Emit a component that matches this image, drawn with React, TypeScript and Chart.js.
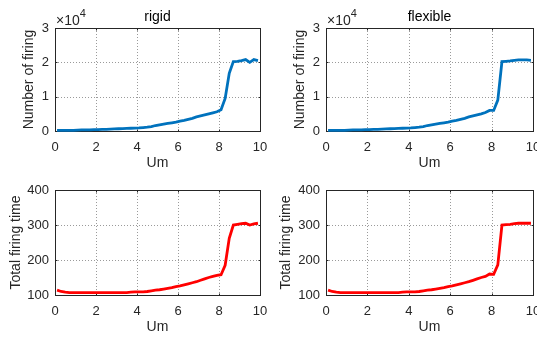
import React, { useEffect, useRef } from "react";
import { Chart, registerables } from "chart.js";

Chart.register(...registerables);

const umValues = [
  0.1, 0.3, 0.5, 0.7, 0.9, 1.1, 1.3, 1.5, 1.7, 1.9,
  2.1, 2.3, 2.5, 2.7, 2.9, 3.1, 3.3, 3.5, 3.7, 3.9,
  4.1, 4.3, 4.5, 4.7, 4.9, 5.1, 5.3, 5.5, 5.7, 5.9,
  6.1, 6.3, 6.5, 6.7, 6.9, 7.1, 7.3, 7.5, 7.7, 7.9,
  8.1, 8.3, 8.5, 8.7, 8.9, 9.1, 9.3, 9.5, 9.7, 9.9,
];

// Number of firing, in units of 10^4
const rigidCount = [
  0.02, 0.02, 0.02, 0.02, 0.02, 0.025, 0.03, 0.03, 0.035, 0.04,
  0.04, 0.045, 0.05, 0.055, 0.06, 0.065, 0.07, 0.075, 0.08, 0.085,
  0.09, 0.1, 0.11, 0.13, 0.16, 0.18, 0.2, 0.22, 0.24, 0.26,
  0.29, 0.31, 0.34, 0.37, 0.41, 0.44, 0.47, 0.5, 0.53, 0.56,
  0.62, 0.95, 1.68, 2.02, 2.03, 2.05, 2.08, 2.0, 2.08, 2.05,
];
const flexibleCount = [
  0.02, 0.02, 0.02, 0.02, 0.02, 0.025, 0.03, 0.03, 0.035, 0.04,
  0.04, 0.045, 0.05, 0.055, 0.06, 0.065, 0.07, 0.075, 0.08, 0.085,
  0.09, 0.1, 0.11, 0.13, 0.16, 0.18, 0.2, 0.22, 0.24, 0.26,
  0.29, 0.31, 0.34, 0.37, 0.41, 0.44, 0.47, 0.5, 0.54, 0.6,
  0.6, 0.9, 2.02, 2.03, 2.04, 2.06, 2.07, 2.07, 2.07, 2.06,
];
const rigidTime = [
  114, 110, 108, 107, 107, 107, 107, 107, 107, 107,
  107, 107, 107, 107, 107, 107, 107, 107, 108, 109,
  109, 109, 110, 112, 114, 115, 117, 119, 121, 124,
  126, 129, 132, 135, 138, 142, 146, 150, 153, 156,
  158, 185, 262, 300, 302, 304, 305, 300, 303, 305,
];
const flexibleTime = [
  114, 110, 108, 107, 107, 107, 107, 107, 107, 107,
  107, 107, 107, 107, 107, 107, 107, 107, 108, 109,
  109, 109, 110, 112, 114, 115, 117, 119, 121, 124,
  126, 129, 132, 135, 138, 142, 146, 150, 153, 160,
  159, 186, 300, 301, 302, 304, 305, 305, 305, 305,
];

const countTicks = [0, 1, 2, 3];
const timeTicks = [100, 200, 300, 400];
const umTicks = [0, 2, 4, 6, 8, 10];

const FONT = "'Liberation Sans', Arial, Helvetica, sans-serif";
const TEXT = "#262626";

type PanelProps = {
  left: number;
  top: number;
  width: number;
  height: number;
  pad: { left: number; right: number; top: number };
  yWidth: number;
  xHeight: number;
  ys: number[];
  color: string;
  yTicks: number[];
  title?: string;
  yTitle: string;
  yTitleX: number;
  xTitleY: number;
  exponent?: boolean;
};

function Panel(p: PanelProps) {
  const ref = useRef<HTMLCanvasElement | null>(null);
  useEffect(() => {
    if (!ref.current) return;
    const yMin = p.yTicks[0];
    const yMax = p.yTicks[p.yTicks.length - 1];
    const decor = {
      id: "decor",
      beforeDatasetsDraw(chart: any) {
        const ctx = chart.ctx;
        const a = chart.chartArea;
        const xs = chart.scales.x;
        const ys = chart.scales.y;
        ctx.save();
        ctx.strokeStyle = "#9a9a9a";
        ctx.lineWidth = 1;
        ctx.setLineDash([1, 2]);
        for (const t of umTicks) {
          const px = Math.round(xs.getPixelForValue(t)) + 0.5;
          ctx.beginPath();
          ctx.moveTo(px, a.top);
          ctx.lineTo(px, a.bottom);
          ctx.stroke();
        }
        for (const t of p.yTicks) {
          const py = Math.round(ys.getPixelForValue(t)) + 0.5;
          ctx.beginPath();
          ctx.moveTo(a.left, py);
          ctx.lineTo(a.right, py);
          ctx.stroke();
        }
        ctx.setLineDash([]);
        ctx.strokeStyle = TEXT;
        ctx.lineWidth = 1;
        const l = Math.round(a.left) + 0.5;
        const r = Math.round(a.right) + 0.5;
        const tp = Math.round(a.top) + 0.5;
        const b = Math.round(a.bottom) + 0.5;
        ctx.strokeRect(l, tp, r - l, b - tp);
        const tl = 2;
        for (const t of umTicks) {
          const px = Math.round(xs.getPixelForValue(t)) + 0.5;
          ctx.beginPath();
          ctx.moveTo(px, b);
          ctx.lineTo(px, b - tl);
          ctx.moveTo(px, tp);
          ctx.lineTo(px, tp + tl);
          ctx.stroke();
        }
        for (const t of p.yTicks) {
          const py = Math.round(ys.getPixelForValue(t)) + 0.5;
          ctx.beginPath();
          ctx.moveTo(l, py);
          ctx.lineTo(l + tl, py);
          ctx.moveTo(r, py);
          ctx.lineTo(r - tl, py);
          ctx.stroke();
        }
        ctx.restore();
      },
      afterDraw(chart: any) {
        const ctx = chart.ctx;
        const a = chart.chartArea;
        const cx = (a.left + a.right) / 2;
        const cy = (a.top + a.bottom) / 2;
        ctx.save();
        ctx.fillStyle = TEXT;
        ctx.textAlign = "center";
        if (p.title) {
          ctx.fillStyle = "#000";
          ctx.font = `14px ${FONT}`;
          ctx.textBaseline = "alphabetic";
          ctx.fillText(p.title, cx, 21);
        }
        ctx.fillStyle = TEXT;
        ctx.font = `14px ${FONT}`;
        ctx.textBaseline = "middle";
        ctx.fillText("Um", cx, p.xTitleY);
        ctx.save();
        ctx.translate(p.yTitleX, cy);
        ctx.rotate(-Math.PI / 2);
        ctx.fillText(p.yTitle, 0, 0);
        ctx.restore();
        if (p.exponent) {
          ctx.textAlign = "left";
          ctx.textBaseline = "alphabetic";
          ctx.font = `14px ${FONT}`;
          const base = "\u00d710";
          ctx.fillText(base, a.left + 1, a.top - 3);
          const w = ctx.measureText(base).width;
          ctx.font = `11px ${FONT}`;
          ctx.fillText("4", a.left + 1 + w, a.top - 11);
        }
        ctx.restore();
      },
    };
    const chart = new Chart(ref.current, {
      type: "line",
      data: {
        datasets: [
          {
            data: umValues.map((x, i) => ({ x, y: p.ys[i] })),
            borderColor: p.color,
            borderWidth: 2.8,
            pointRadius: 0,
            tension: 0,
            fill: false,
            clip: false as any,
          },
        ],
      },
      options: {
        responsive: false,
        animation: false,
        events: [],
        layout: { padding: { left: p.pad.left, right: p.pad.right, top: p.pad.top, bottom: 0 } },
        plugins: { legend: { display: false }, tooltip: { enabled: false }, title: { display: false } },
        scales: {
          x: {
            type: "linear",
            min: 0,
            max: 10,
            grid: { display: false, drawTicks: false },
            border: { display: false },
            afterBuildTicks: (s: any) => {
              s.ticks = umTicks.map((v) => ({ value: v }));
            },
            afterFit: (s: any) => {
              s.height = p.xHeight;
              s.paddingLeft = 0;
              s.paddingRight = 0;
            },
            ticks: {
              maxRotation: 0,
              autoSkip: false,
              padding: 9,
              color: TEXT,
              font: { family: FONT, size: 13 },
            },
          },
          y: {
            type: "linear",
            min: yMin,
            max: yMax,
            grid: { display: false, drawTicks: false },
            border: { display: false },
            afterBuildTicks: (s: any) => {
              s.ticks = p.yTicks.map((v) => ({ value: v }));
            },
            afterFit: (s: any) => {
              s.width = p.yWidth;
              s.paddingTop = 0;
              s.paddingBottom = 0;
            },
            ticks: {
              autoSkip: false,
              padding: 6,
              color: TEXT,
              font: { family: FONT, size: 13 },
            },
          },
        },
      },
      plugins: [decor],
    });
    return () => chart.destroy();
  }, []);
  return (
    <canvas
      ref={ref}
      width={p.width}
      height={p.height}
      style={{ position: "absolute", left: p.left, top: p.top, width: p.width, height: p.height }}
    />
  );
}

export default function App() {
  return (
    <div style={{ position: "absolute", left: 0, top: 0, width: 537, height: 339, background: "#fff", overflow: "hidden" }}>
      <Panel
        left={0} top={0} width={268} height={170}
        pad={{ left: 0, right: 8, top: 28 }} yWidth={55} xHeight={39}
        ys={rigidCount} color="#0072BD" yTicks={countTicks}
        title="rigid" yTitle="Number of firing" yTitleX={29} xTitleY={163} exponent
      />
      <Panel
        left={268} top={0} width={269} height={170}
        pad={{ left: 0, right: 4, top: 28 }} yWidth={58} xHeight={39}
        ys={flexibleCount} color="#0072BD" yTicks={countTicks}
        title="flexible" yTitle="Number of firing" yTitleX={32} xTitleY={163} exponent
      />
      <Panel
        left={0} top={170} width={268} height={169}
        pad={{ left: 0, right: 8, top: 20 }} yWidth={55} xHeight={44}
        ys={rigidTime} color="#FF0000" yTicks={timeTicks}
        yTitle="Total firing time" yTitleX={16} xTitleY={157}
      />
      <Panel
        left={268} top={170} width={269} height={169}
        pad={{ left: 0, right: 4, top: 20 }} yWidth={58} xHeight={44}
        ys={flexibleTime} color="#FF0000" yTicks={timeTicks}
        yTitle="Total firing time" yTitleX={18} xTitleY={157}
      />
    </div>
  );
}
